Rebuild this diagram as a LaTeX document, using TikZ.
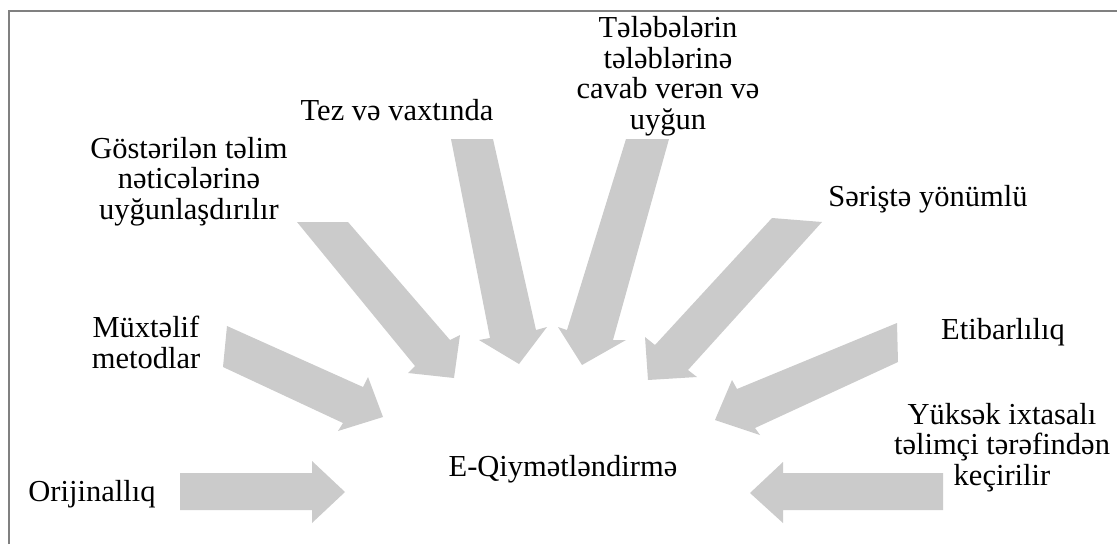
\documentclass[tikz,border=0pt]{standalone}
\usepackage{fontspec}
\setmainfont{Liberation Serif}
\definecolor{arrowgray}{HTML}{CBCBCB}
\definecolor{framegray}{HTML}{808080}
\begin{document}
\begin{tikzpicture}[x=1pt,y=-1pt,
  blockarrow/.style={fill=arrowgray, draw=none},
  lbl/.style={font=\fontsize{30.5}{30.5}\selectfont, inner sep=0pt, anchor=base, align=center},
  frameline/.style={draw=framegray, line width=2pt}]
\useasboundingbox (0,0) rectangle (1117,544);
% frame
\draw[frameline] (9,544) -- (9,11) -- (1117,11);

% labels (multi-line nodes: base anchor = last line's baseline)
\node[lbl] (orig) at (92,501) {Orijinallıq};
\node[lbl] (mux) at (146,368) {Müxtəlif\\metodlar};
\node[lbl] (gos) at (189,219) {Göstərilən təlim\\nəticələrinə\\uyğunlaşdırılır};
\node[lbl] (tez) at (397,120) {Tez və vaxtında};
\node[lbl] (tel) at (668,129) {Tələbələrin\\tələblərinə\\cavab verən və\\uyğun};
\node[lbl] (ser) at (928,206) {Səriştə yönümlü};
\node[lbl] (eti) at (1003,339) {Etibarlılıq};
\node[lbl] (yuk) at (1002,485) {Yüksək ixtasalı\\təlimçi tərəfindən\\keçirilir};
\node[lbl] (eq) at (563,476) {E-Qiymətləndirmə};

% block arrows
\fill[blockarrow] (180,473) -- (312,473) -- (312,461) -- (345,492) -- (312,523) -- (312,510) -- (180,510) -- cycle;
\fill[blockarrow] (227,326) -- (363,387) -- (368,377) -- (383,417) -- (338,431) -- (343,423) -- (223,367) -- cycle;
\fill[blockarrow] (297,222) -- (348,222) -- (450,340) -- (460,335) -- (454,378) -- (408,373) -- (415,366) -- cycle;
\fill[blockarrow] (451,139) -- (493,139) -- (536,330) -- (547,327) -- (519,364) -- (479,340) -- (490,338) -- cycle;
\fill[blockarrow] (626,139) -- (669,139) -- (613,340) -- (626,340) -- (582,365) -- (558,327) -- (567,330) -- cycle;
\fill[blockarrow] (772,218) -- (822,222) -- (688,370) -- (697,377) -- (648,380) -- (645,337) -- (655,345) -- cycle;
\fill[blockarrow] (897,323) -- (898,362) -- (755,428) -- (760,435) -- (715,420) -- (732,380) -- (737,389) -- cycle;
\fill[blockarrow] (943,473) -- (783,473) -- (783,462) -- (750,493) -- (783,523) -- (783,510) -- (943,510) -- cycle;
\end{tikzpicture}
\end{document}
